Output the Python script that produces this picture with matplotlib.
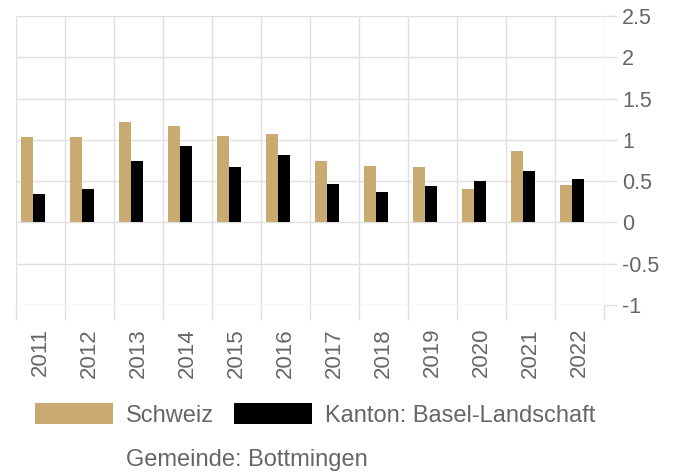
import numpy as np
from matplotlib import pyplot as plt
from matplotlib.patches import Patch

years = ['2011', '2012', '2013', '2014', '2015', '2016',
         '2017', '2018', '2019', '2020', '2021', '2022']
schweiz = [1.04, 1.03, 1.22, 1.17, 1.05, 1.07, 0.74, 0.68, 0.67, 0.41, 0.87, 0.45]
kanton = [0.34, 0.41, 0.75, 0.93, 0.67, 0.82, 0.47, 0.37, 0.44, 0.50, 0.62, 0.53]
labels = ['Schweiz', 'Kanton: Basel-Landschaft', 'Gemeinde: Bottmingen']

gold = '#c9ab72'
grid_c = '#e0e0e0'
text_c = '#666666'

plt.rcParams.update({'font.family': ['Liberation Sans', 'DejaVu Sans']})

fig = plt.figure(figsize=(6.86, 4.76), dpi=100)
ax = fig.add_axes([16/686, 1 - 305/476, 588/686, 289/476])

x = np.arange(len(years))
barWidth = 0.25
ax.bar(x - 0.4, schweiz, width=barWidth, align='edge', color=gold, zorder=3)
ax.bar(x - 0.4 + barWidth, kanton, width=barWidth, align='edge', color='black', zorder=3)

ax.set_xlim(-0.5, len(years) - 0.5)
ax.set_ylim(-1, 2.5)

# y axis on the right
ax.yaxis.tick_right()
yt = np.arange(-1, 2.51, 0.5)
ax.set_yticks(yt)
ax.set_yticklabels(['%g' % v for v in yt])
ax.tick_params(axis='y', length=9.4, width=1.0, color=grid_c, pad=3.5,
               labelsize=15.5, labelcolor=text_c)

# x axis: labels at centres, grid at category boundaries
ax.set_xticks(x)
ax.set_xticklabels(years, rotation=90)
ax.tick_params(axis='x', which='major', length=0, pad=16.5,
               labelsize=16, labelcolor=text_c)
ax.set_xticks(np.arange(-0.5, len(years), 1), minor=True)
ax.tick_params(axis='x', which='minor', length=10.8, width=1.0, color=grid_c)

ax.grid(axis='y', which='major', color=grid_c, linewidth=1.0, zorder=0)
ax.grid(axis='x', which='minor', color=grid_c, linewidth=1.0, zorder=0)
for s in ax.spines.values():
    s.set_visible(False)

# legend row 1: Schweiz, Kanton
handles = [Patch(facecolor=gold), Patch(facecolor='black')]
fig.legend(handles, labels[:2], ncol=2, loc='upper left',
           bbox_to_anchor=(35/686, 1 - 403/476), frameon=False,
           fontsize=17, handlelength=3.3, handleheight=1.0,
           handletextpad=0.55, columnspacing=0.85,
           borderpad=0, borderaxespad=0, labelcolor=text_c)
# legend row 2: Gemeinde (no data, no swatch)
fig.text(126/686, 1 - 460/476, labels[2], fontsize=17, color=text_c,
         ha='left', va='center')

fig.savefig('out.png', dpi=100)
